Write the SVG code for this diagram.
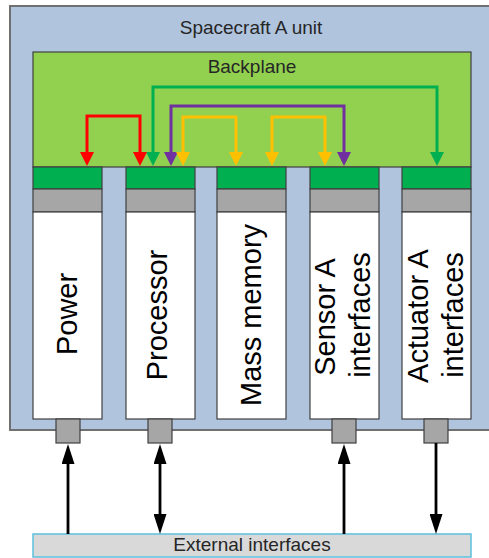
<svg xmlns="http://www.w3.org/2000/svg" width="489" height="558" viewBox="0 0 489 558">
<style>
.lbl{font-family:"Liberation Sans",Arial,sans-serif;font-size:19px;fill:#262626;text-anchor:middle}
.mod{font-family:"Liberation Sans",Arial,sans-serif;font-size:29px;fill:#000;text-anchor:middle}
.edge{stroke:#404040;stroke-width:1.2}
.conn{fill:none;stroke-width:3}
.blk{fill:none;stroke:#000;stroke-width:2.8}
</style>
<defs>
<marker id="hr" viewBox="0 0 14 14" refX="6" refY="7" markerWidth="14" markerHeight="14" markerUnits="userSpaceOnUse" orient="auto-start-reverse"><path d="M0,0 L14,7 L0,14 z" fill="#ff0000"/></marker>
<marker id="hg" viewBox="0 0 14 14" refX="6" refY="7" markerWidth="14" markerHeight="14" markerUnits="userSpaceOnUse" orient="auto-start-reverse"><path d="M0,0 L14,7 L0,14 z" fill="#00b050"/></marker>
<marker id="hp" viewBox="0 0 14 14" refX="6" refY="7" markerWidth="14" markerHeight="14" markerUnits="userSpaceOnUse" orient="auto-start-reverse"><path d="M0,0 L14,7 L0,14 z" fill="#7030a0"/></marker>
<marker id="hy" viewBox="0 0 14 14" refX="6" refY="7" markerWidth="14" markerHeight="14" markerUnits="userSpaceOnUse" orient="auto-start-reverse"><path d="M0,0 L14,7 L0,14 z" fill="#ffc000"/></marker>
<marker id="hb" viewBox="0 0 20 13" refX="8" refY="6.5" markerWidth="20" markerHeight="13" markerUnits="userSpaceOnUse" orient="auto-start-reverse"><path d="M0,0 L20,6.5 L0,13 z" fill="#000"/></marker>
</defs>
<rect width="489" height="558" fill="#fff"/>
<g id="unit">
<rect x="10" y="6" width="490" height="424" fill="#b0c4de" stroke="#707070" stroke-width="2"/>
<text class="lbl" x="251" y="34">Spacecraft A unit</text>
</g>
<g id="backplane">
<rect x="33" y="52" width="438" height="115" fill="#92d050" class="edge"/>
<text class="lbl" x="252" y="73">Backplane</text>
</g>
<g id="power">
<rect x="33" y="167" width="69" height="22" fill="#00b050" class="edge"/>
<rect x="33" y="189" width="69" height="23" fill="#a6a6a6" class="edge"/>
<rect x="33" y="212" width="69" height="207" fill="#fff" class="edge"/>
<rect x="56" y="419" width="24" height="24" fill="#a6a6a6" class="edge"/>
<text class="mod" transform="translate(77,314) rotate(-90)">Power</text>
</g>
<g id="processor">
<rect x="126" y="167" width="69" height="22" fill="#00b050" class="edge"/>
<rect x="126" y="189" width="69" height="23" fill="#a6a6a6" class="edge"/>
<rect x="126" y="212" width="69" height="207" fill="#fff" class="edge"/>
<rect x="148" y="419" width="24" height="24" fill="#a6a6a6" class="edge"/>
<text class="mod" transform="translate(167,315) rotate(-90)">Processor</text>
</g>
<g id="mass-memory">
<rect x="217" y="167" width="69" height="22" fill="#00b050" class="edge"/>
<rect x="217" y="189" width="69" height="23" fill="#a6a6a6" class="edge"/>
<rect x="217" y="212" width="69" height="207" fill="#fff" class="edge"/>
<text class="mod" transform="translate(261,315) rotate(-90)">Mass memory</text>
</g>
<g id="sensor">
<rect x="310" y="167" width="69" height="22" fill="#00b050" class="edge"/>
<rect x="310" y="189" width="69" height="23" fill="#a6a6a6" class="edge"/>
<rect x="310" y="212" width="69" height="207" fill="#fff" class="edge"/>
<rect x="332" y="419" width="24" height="24" fill="#a6a6a6" class="edge"/>
<text class="mod" transform="translate(335,317) rotate(-90)">Sensor A</text>
<text class="mod" transform="translate(370,315) rotate(-90)">interfaces</text>
</g>
<g id="actuator">
<rect x="402" y="167" width="69" height="22" fill="#00b050" class="edge"/>
<rect x="402" y="189" width="69" height="23" fill="#a6a6a6" class="edge"/>
<rect x="402" y="212" width="69" height="207" fill="#fff" class="edge"/>
<rect x="424" y="419" width="24" height="24" fill="#a6a6a6" class="edge"/>
<text class="mod" transform="translate(428,316) rotate(-90)">Actuator A</text>
<text class="mod" transform="translate(463,315) rotate(-90)">interfaces</text>
</g>
<g id="external">
<rect x="33" y="534" width="438" height="23" fill="#d9d9d9" stroke="#5bc0de" stroke-width="1.5"/>
<text class="lbl" x="252" y="551">External interfaces</text>
</g>
<g id="connectors">
<path class="conn" stroke="#00b050" d="M153,158 V87 H437 V158" marker-start="url(#hg)" marker-end="url(#hg)"/>
<path class="conn" stroke="#7030a0" d="M171,158 V106 H344 V158" marker-start="url(#hp)" marker-end="url(#hp)"/>
<path class="conn" stroke="#ff0000" d="M87,158 V116 H140 V158" marker-start="url(#hr)" marker-end="url(#hr)"/>
<path class="conn" stroke="#ffc000" d="M183,158 V117 H236 V158" marker-start="url(#hy)" marker-end="url(#hy)"/>
<path class="conn" stroke="#ffc000" d="M272,158 V117 H325 V158" marker-start="url(#hy)" marker-end="url(#hy)"/>
<path class="blk" d="M68,534 V456" marker-end="url(#hb)"/>
<path class="blk" d="M160,456 V522" marker-start="url(#hb)" marker-end="url(#hb)"/>
<path class="blk" d="M344,534 V456" marker-end="url(#hb)"/>
<path class="blk" d="M436,443 V522" marker-end="url(#hb)"/>
</g>
</svg>
